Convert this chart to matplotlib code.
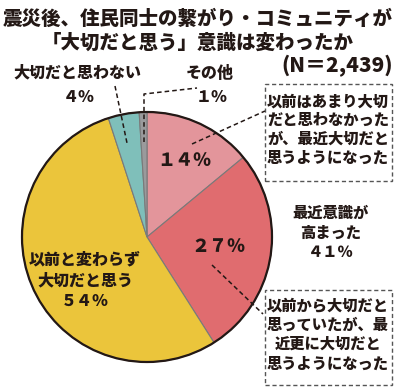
import matplotlib.pyplot as plt
from matplotlib.patches import Circle, Rectangle

plt.rcParams['font.family'] = ['Noto Sans CJK JP', 'DejaVu Sans']

# データ（時計回り、上から）
labels = ['以前はあまり大切だと思わなかったが、最近大切だと思うようになった',
          '以前から大切だと思っていたが、最近更に大切だと思うようになった',
          '以前と変わらず大切だと思う',
          '大切だと思わない',
          'その他']
shares = [14, 27, 54, 4, 1]
pct_labels = ['１４％', '２７％', '５４％', '４％', '１％']
colors = ['#E3959B', '#E06C6F', '#EBC53B', '#7FBFBA', '#9A9A9C']

H = 390  # 画素座標 -> データ座標
def Y(y):
    return H - y

fig = plt.figure(figsize=(3.97, 3.90), dpi=100)
ax = fig.add_axes([0, 0, 1, 1])
ax.set_xlim(0, 397)
ax.set_ylim(0, 390)
ax.axis('off')

cx, cy, r = 147, Y(237), 125
ax.pie(shares, colors=colors, startangle=90, counterclock=False,
       center=(cx, cy), radius=r,
       wedgeprops=dict(edgecolor='#7a7a7a', linewidth=0.8))
ax.add_patch(Circle((cx, cy), r, fill=False, edgecolor='#231815', linewidth=1.6))
ax.set_xlim(0, 397)
ax.set_ylim(0, 390)
ax.set_aspect('auto')

W = 'heavy'
# タイトル
ax.text(198, Y(19), '震災後、住民同士の繋がり・コミュニティが', ha='center', va='center',
        fontsize=14, fontweight=W, color='#231815')
ax.text(198, Y(43), '「大切だと思う」意識は変わったか', ha='center', va='center',
        fontsize=14, fontweight=W, color='#231815')
ax.text(393, Y(66), '(N＝2,439)', ha='right', va='center',
        fontsize=15, fontweight=W, color='#231815')

tk = dict(ha='center', va='center', fontweight=W, color='#231815')
# 小さいスライスのラベル
ax.text(77, Y(73), labels[3], fontsize=11.5, **tk)
ax.text(79, Y(97), pct_labels[3], fontsize=11.5, **tk)
ax.text(210, Y(73), labels[4], fontsize=11.5, **tk)
ax.text(212, Y(97), pct_labels[4], fontsize=11.5, **tk)

# スライス内ラベル
ax.text(184, Y(160), pct_labels[0], fontsize=13, **tk)
ax.text(218, Y(247), pct_labels[1], fontsize=13, **tk)
ax.text(85, Y(280), '以前と変わらず\n大切だと思う\n' + pct_labels[2],
        fontsize=11.5, linespacing=1.45, **tk)
ax.text(331, Y(233), '最近意識が\n高まった\n４１％', fontsize=11,
        linespacing=1.4, **tk)

# 点線ボックス
box_kw = dict(fill=True, facecolor='white', edgecolor='#555555', linewidth=1,
              linestyle=(0, (3, 2)))
ax.add_patch(Rectangle((265, Y(181)), 127, 97, **box_kw))
ax.text(328, Y(130), '以前はあまり大切\nだと思わなかった\nが、最近大切だと\n思うようになった',
        fontsize=11, linespacing=1.3, **tk)
ax.add_patch(Rectangle((265, Y(385)), 127, 95, **box_kw))
ax.text(328, Y(335), '以前から大切だと\n思っていたが、最\n近更に大切だと\n思うようになった',
        fontsize=11, linespacing=1.35, **tk)

# 引き出し線
ld = dict(color='#231815', linewidth=1.1, linestyle=(0, (3, 2)))
ax.plot([192, 265], [Y(144), Y(111)], **ld)
ax.plot([212, 263], [Y(265), Y(314)], **ld)
ax.plot([115, 127], [Y(86), Y(143)], **ld)
ax.plot([144, 144, 197], [Y(142), Y(94), Y(88)], **ld)

plt.savefig('out.png', dpi=100, facecolor='white')
plt.close()
